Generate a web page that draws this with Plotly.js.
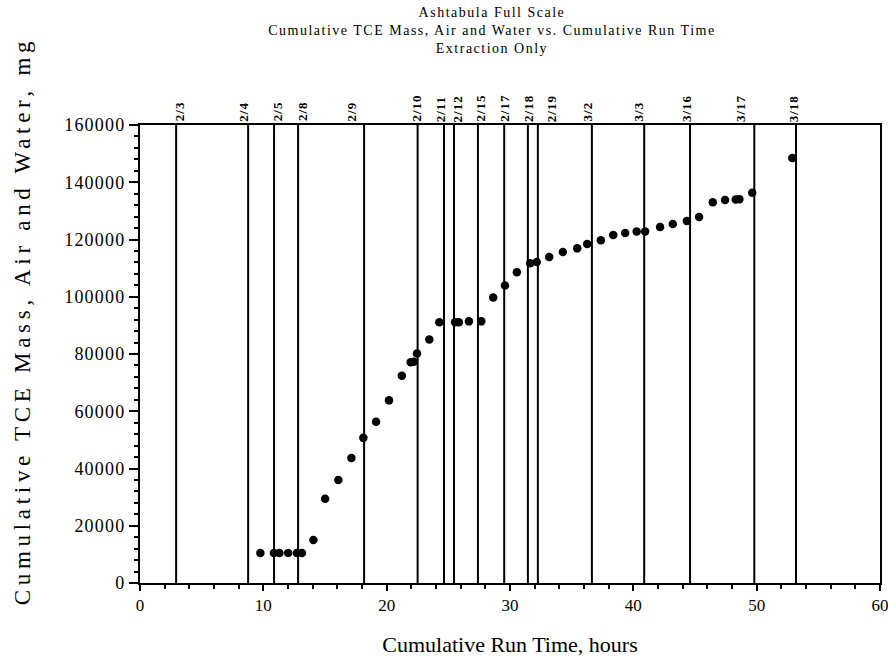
<!DOCTYPE html>
<html>
<head>
<meta charset="utf-8">
<script src="https://cdn.plot.ly/plotly-3.0.1.min.js"></script>
<style>
  html, body { margin: 0; padding: 0; background: #fff; }
  #chart { width: 888px; height: 665px; }
  .gtitle { letter-spacing: 1.5px; }
  .ytick text { letter-spacing: 1.2px; }
  .annotation text { letter-spacing: 1px; }
  .annotation[data-index="17"] text { letter-spacing: 4.7px; }
</style>
</head>
<body>
<div id="chart"></div>
<script>
// Cumulative run time (hours) of each sample
const runTime = [9.76, 10.86, 11.30, 12.01, 12.72, 13.13, 14.06, 15.01, 16.08, 17.14,
  18.11, 19.14, 20.19, 21.23, 21.95, 22.20, 22.46, 23.46, 24.27, 25.55,
  25.85, 26.67, 27.67, 28.64, 29.59, 30.56, 31.64, 32.17, 33.18, 34.29,
  35.45, 36.26, 37.37, 38.37, 39.34, 40.27, 40.96, 42.17, 43.20, 44.34,
  45.33, 46.44, 47.44, 48.30, 48.60, 49.64, 52.89];
// Cumulative TCE mass, air and water (mg)
const tceMass = [10500, 10500, 10500, 10500, 10500, 10500, 15000, 29400, 36000, 43700,
  50700, 56300, 63800, 72400, 77100, 77300, 80200, 85100, 91100, 91100,
  91100, 91400, 91400, 99700, 103900, 108600, 111700, 112100, 113900, 115600,
  116900, 118400, 119700, 121600, 122300, 122800, 122800, 124400, 125400, 126500,
  127900, 133000, 133800, 134000, 134100, 136300, 148500];
// Date markers (vertical lines) in run-time hours
const dateLineX = [2.93, 8.77, 10.87, 12.82, 18.17, 22.51, 24.65, 25.46, 27.40, 29.53,
  31.45, 32.26, 36.64, 40.88, 44.60, 49.81, 53.19];
const dateLabels = ['2/3', '2/4', '2/5', '2/8', '2/9', '2/10', '2/11', '2/12', '2/15', '2/17',
  '2/18', '2/19', '3/2', '3/3', '3/16', '3/17', '3/18'];
const dateLabelX = [3.18, 8.41, 11.12, 13.14, 17.14, 22.38, 24.35, 25.78, 27.53, 29.49,
  31.45, 33.34, 36.28, 40.41, 44.28, 48.65, 52.97];
const yRange = [0, 160000];
const xRange = [0, 60.001];

const FONT = 'Liberation Serif, Times New Roman, Times, serif';

// build vertical line trace from date markers
const vx = [], vy = [];
dateLineX.forEach(function (x) { vx.push(x, x, null); vy.push(yRange[0], yRange[1], null); });

const traces = [
  { x: vx, y: vy, type: 'scatter', mode: 'lines', line: { color: '#000', width: 2 },
    hoverinfo: 'skip', showlegend: false },
  { x: runTime, y: tceMass, type: 'scatter', mode: 'markers',
    marker: { color: '#000', size: 8.5, symbol: 'circle' }, showlegend: false }
];

const annotations = dateLabels.map(function (t, i) {
  return { x: dateLabelX[i], xref: 'x', y: 1, yref: 'paper', yshift: 3,
    text: '<b>' + t + '</b>', showarrow: false, textangle: -90,
    xanchor: 'center', yanchor: 'bottom',
    font: { family: FONT, size: 13, color: '#000' } };
});
// y-axis title (placed as annotation to match its off-centre position)
annotations.push({
  x: -0.1595, xref: 'paper', y: 0.572, yref: 'paper',
  text: 'Cumulative TCE Mass, Air and Water, mg', showarrow: false, textangle: -90,
  xanchor: 'center', yanchor: 'middle',
  font: { family: FONT, size: 23, color: '#000' }
});

const layout = {
  width: 888, height: 665,
  paper_bgcolor: '#fff', plot_bgcolor: '#fff',
  margin: { l: 140, r: 8, t: 125, b: 82 },
  font: { family: FONT, color: '#000' },
  title: {
    text: 'Ashtabula Full Scale<br>Cumulative TCE Mass, Air and Water vs. Cumulative Run Time<br>Extraction Only',
    x: 0.554, xanchor: 'center', xref: 'container',
    y: 0.975, yanchor: 'top', yref: 'container',
    font: { family: FONT, size: 14, color: '#000' }
  },
  xaxis: {
    range: xRange, dtick: 10, tick0: 0,
    showline: true, linecolor: '#000', linewidth: 2, mirror: true,
    showgrid: false, zeroline: false,
    ticks: 'outside', ticklen: 6, tickwidth: 2, tickcolor: '#000',
    minor: { dtick: 2, ticks: 'outside', ticklen: 4, tickwidth: 2, tickcolor: '#000' },
    tickfont: { family: FONT, size: 17, color: '#000' },
    ticklabeloverflow: 'allow',
    title: { text: 'Cumulative Run Time, hours', font: { family: FONT, size: 22, color: '#000' }, standoff: 22 }
  },
  yaxis: {
    range: yRange, dtick: 20000, tick0: 0,
    showline: true, linecolor: '#000', linewidth: 2, mirror: true,
    showgrid: false, zeroline: false,
    ticks: 'outside', ticklen: 9, tickwidth: 2, tickcolor: '#000',
    minor: { dtick: 4000, ticks: 'outside', ticklen: 4, tickwidth: 2, tickcolor: '#000' },
    tickfont: { family: FONT, size: 18, color: '#000' },
    tickformat: 'd'
  },
  annotations: annotations
};

Plotly.newPlot('chart', traces, layout, { displayModeBar: false, staticPlot: true });
</script>
</body>
</html>
